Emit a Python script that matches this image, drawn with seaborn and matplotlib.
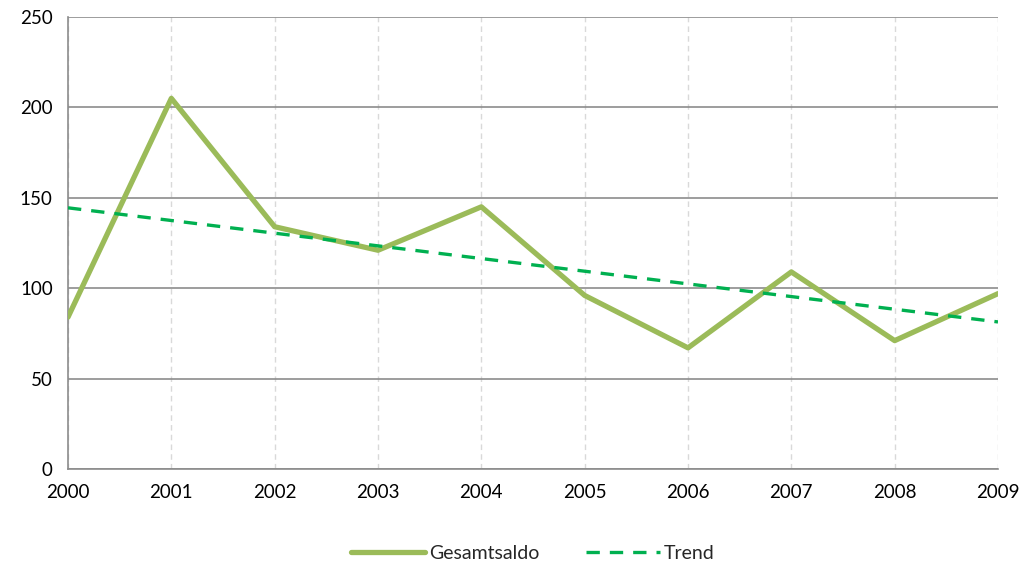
import numpy as np
import pandas as pd
import matplotlib
matplotlib.use("Agg")
import matplotlib.pyplot as plt
import seaborn as sns

years = [2000, 2001, 2002, 2003, 2004, 2005, 2006, 2007, 2008, 2009]
gesamtsaldo = [84, 205, 134, 121, 145, 96, 67, 109, 71, 97]
y_ticks = [0, 50, 100, 150, 200, 250]

# linear trend through the yearly balance
coef = np.polyfit(years, gesamtsaldo, 1)
trend = np.polyval(coef, years)

df = pd.DataFrame({"Jahr": years, "Gesamtsaldo": gesamtsaldo, "Trend": trend})

sns.set_style("white")
plt.rcParams["font.family"] = ["Lato", "DejaVu Sans"]

fig = plt.figure(figsize=(10.24, 5.64), dpi=100)
ax = fig.add_axes([68 / 1024, 1 - 469 / 564, 930 / 1024, 452 / 564])

sns.lineplot(data=df, x="Jahr", y="Gesamtsaldo", ax=ax, color="#9BBB59",
             linewidth=3.8, label="Gesamtsaldo", zorder=3)
sns.lineplot(data=df, x="Jahr", y="Trend", ax=ax, color="#00B050",
             linewidth=2.4, linestyle=(0, (4, 3)), label="Trend", zorder=4)

ax.set_xlim(years[0], years[-1])
ax.set_ylim(0, 250)
ax.set_xticks(years)
ax.set_xticklabels([str(y) for y in years])
ax.set_yticks(y_ticks)
ax.set_xlabel("")
ax.set_ylabel("")

ax.grid(axis="y", color="#8C8C8C", linewidth=1.2, linestyle="-")
ax.grid(axis="x", color="#D9D9D9", linewidth=1.0, linestyle=(0, (4, 3)))
ax.set_axisbelow(True)

for side in ["top", "right"]:
    ax.spines[side].set_visible(False)
for side in ["left", "bottom"]:
    ax.spines[side].set_color("#8C8C8C")
    ax.spines[side].set_linewidth(1.2)

ax.tick_params(axis="both", which="both", length=5, width=1.2, color="#8C8C8C",
               labelsize=13.5, labelcolor="#000000", direction="out")
ax.tick_params(axis="x", pad=6)
ax.tick_params(axis="y", pad=6)

leg = ax.legend(loc="upper center", bbox_to_anchor=(0.5, -0.13), ncol=2,
                frameon=False, fontsize=14, handlelength=3.8, columnspacing=2.4,
                handletextpad=0.2)

fig.savefig("out.png", dpi=100)
